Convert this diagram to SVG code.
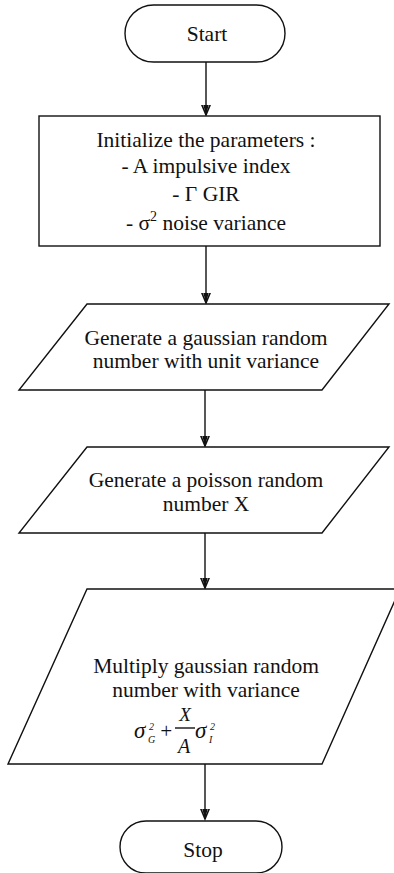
<svg xmlns="http://www.w3.org/2000/svg" width="394" height="873" viewBox="0 0 394 873">
  <style>
    .shape { fill: #ffffff; stroke: #111111; stroke-width: 1.4; }
    .line { fill: none; stroke: #111111; stroke-width: 1.4; }
    .label { font-family: "Liberation Serif", "Times New Roman", serif; font-size: 21.5px; fill: #111111; text-anchor: middle; }
    .math { font-family: "Liberation Serif", "Times New Roman", serif; font-style: italic; fill: #111111; }
  </style>
  <defs>
    <marker id="arrow" viewBox="-10 -10 20 20" markerWidth="20" markerHeight="20" refX="0" refY="0" orient="auto" markerUnits="userSpaceOnUse">
      <path d="M-17,-7 L0,0 L-17,7" fill="none" stroke="#111111" stroke-width="1.6"/>
      <path d="M-11,-3 L0,0 L-11,3 Z" fill="#111111"/>
    </marker>
  </defs>
  <rect width="394" height="873" fill="#ffffff"/>

  <g id="connectors">
    <line class="line" x1="206" y1="62" x2="206" y2="115" marker-end="url(#arrow)"/>
    <line class="line" x1="206" y1="246" x2="206" y2="303" marker-end="url(#arrow)"/>
    <line class="line" x1="205" y1="390" x2="205" y2="446" marker-end="url(#arrow)"/>
    <line class="line" x1="205" y1="533" x2="205" y2="588" marker-end="url(#arrow)"/>
    <line class="line" x1="205" y1="764" x2="205" y2="819" marker-end="url(#arrow)"/>
  </g>

  <g id="start">
    <rect class="shape" x="125" y="5" width="160" height="57" rx="28.5" ry="28.5"/>
    <text class="label" x="207" y="41">Start</text>
  </g>

  <g id="init">
    <rect class="shape" x="39" y="116" width="341" height="130"/>
    <text class="label" x="206" y="147">Initialize the parameters :</text>
    <text class="label" x="206" y="173">- A impulsive index</text>
    <text class="label" x="206" y="201">- Γ  GIR</text>
    <text class="label" x="206" y="230">- σ<tspan font-size="14" dy="-9">2</tspan><tspan dy="9"> noise variance</tspan></text>
  </g>

  <g id="gaussian">
    <polygon class="shape" points="87,304 389,304 322,390 19,390"/>
    <text class="label" x="206" y="345">Generate a gaussian random</text>
    <text class="label" x="206" y="368">number with unit variance</text>
  </g>

  <g id="poisson">
    <polygon class="shape" points="87,447 389,447 322,533 19,533"/>
    <text class="label" x="206" y="487">Generate a poisson random</text>
    <text class="label" x="206" y="511">number X</text>
  </g>

  <g id="multiply">
    <polygon class="shape" points="87,589 400,589 322,764 8,764"/>
    <text class="label" x="206" y="673">Multiply gaussian random</text>
    <text class="label" x="206" y="697">number with variance</text>
    <text class="math" x="134" y="738" font-size="23">σ</text>
    <text class="math" x="148" y="743" font-size="10">G</text>
    <text class="math" x="149" y="730" font-size="10" font-style="normal">2</text>
    <text class="math" x="159" y="738" font-size="21" font-style="normal">+</text>
    <text class="math" x="185" y="721" font-size="19" text-anchor="middle">X</text>
    <line class="line" x1="175" y1="728" x2="195" y2="728" stroke-width="1"/>
    <text class="math" x="184" y="753" font-size="20" text-anchor="middle">A</text>
    <text class="math" x="195" y="738" font-size="23">σ</text>
    <text class="math" x="209" y="743" font-size="10">I</text>
    <text class="math" x="210" y="730" font-size="10" font-style="normal">2</text>
  </g>

  <g id="stop">
    <rect class="shape" x="120" y="821" width="162" height="52" rx="26" ry="26"/>
    <text class="label" x="203" y="857">Stop</text>
  </g>
</svg>
